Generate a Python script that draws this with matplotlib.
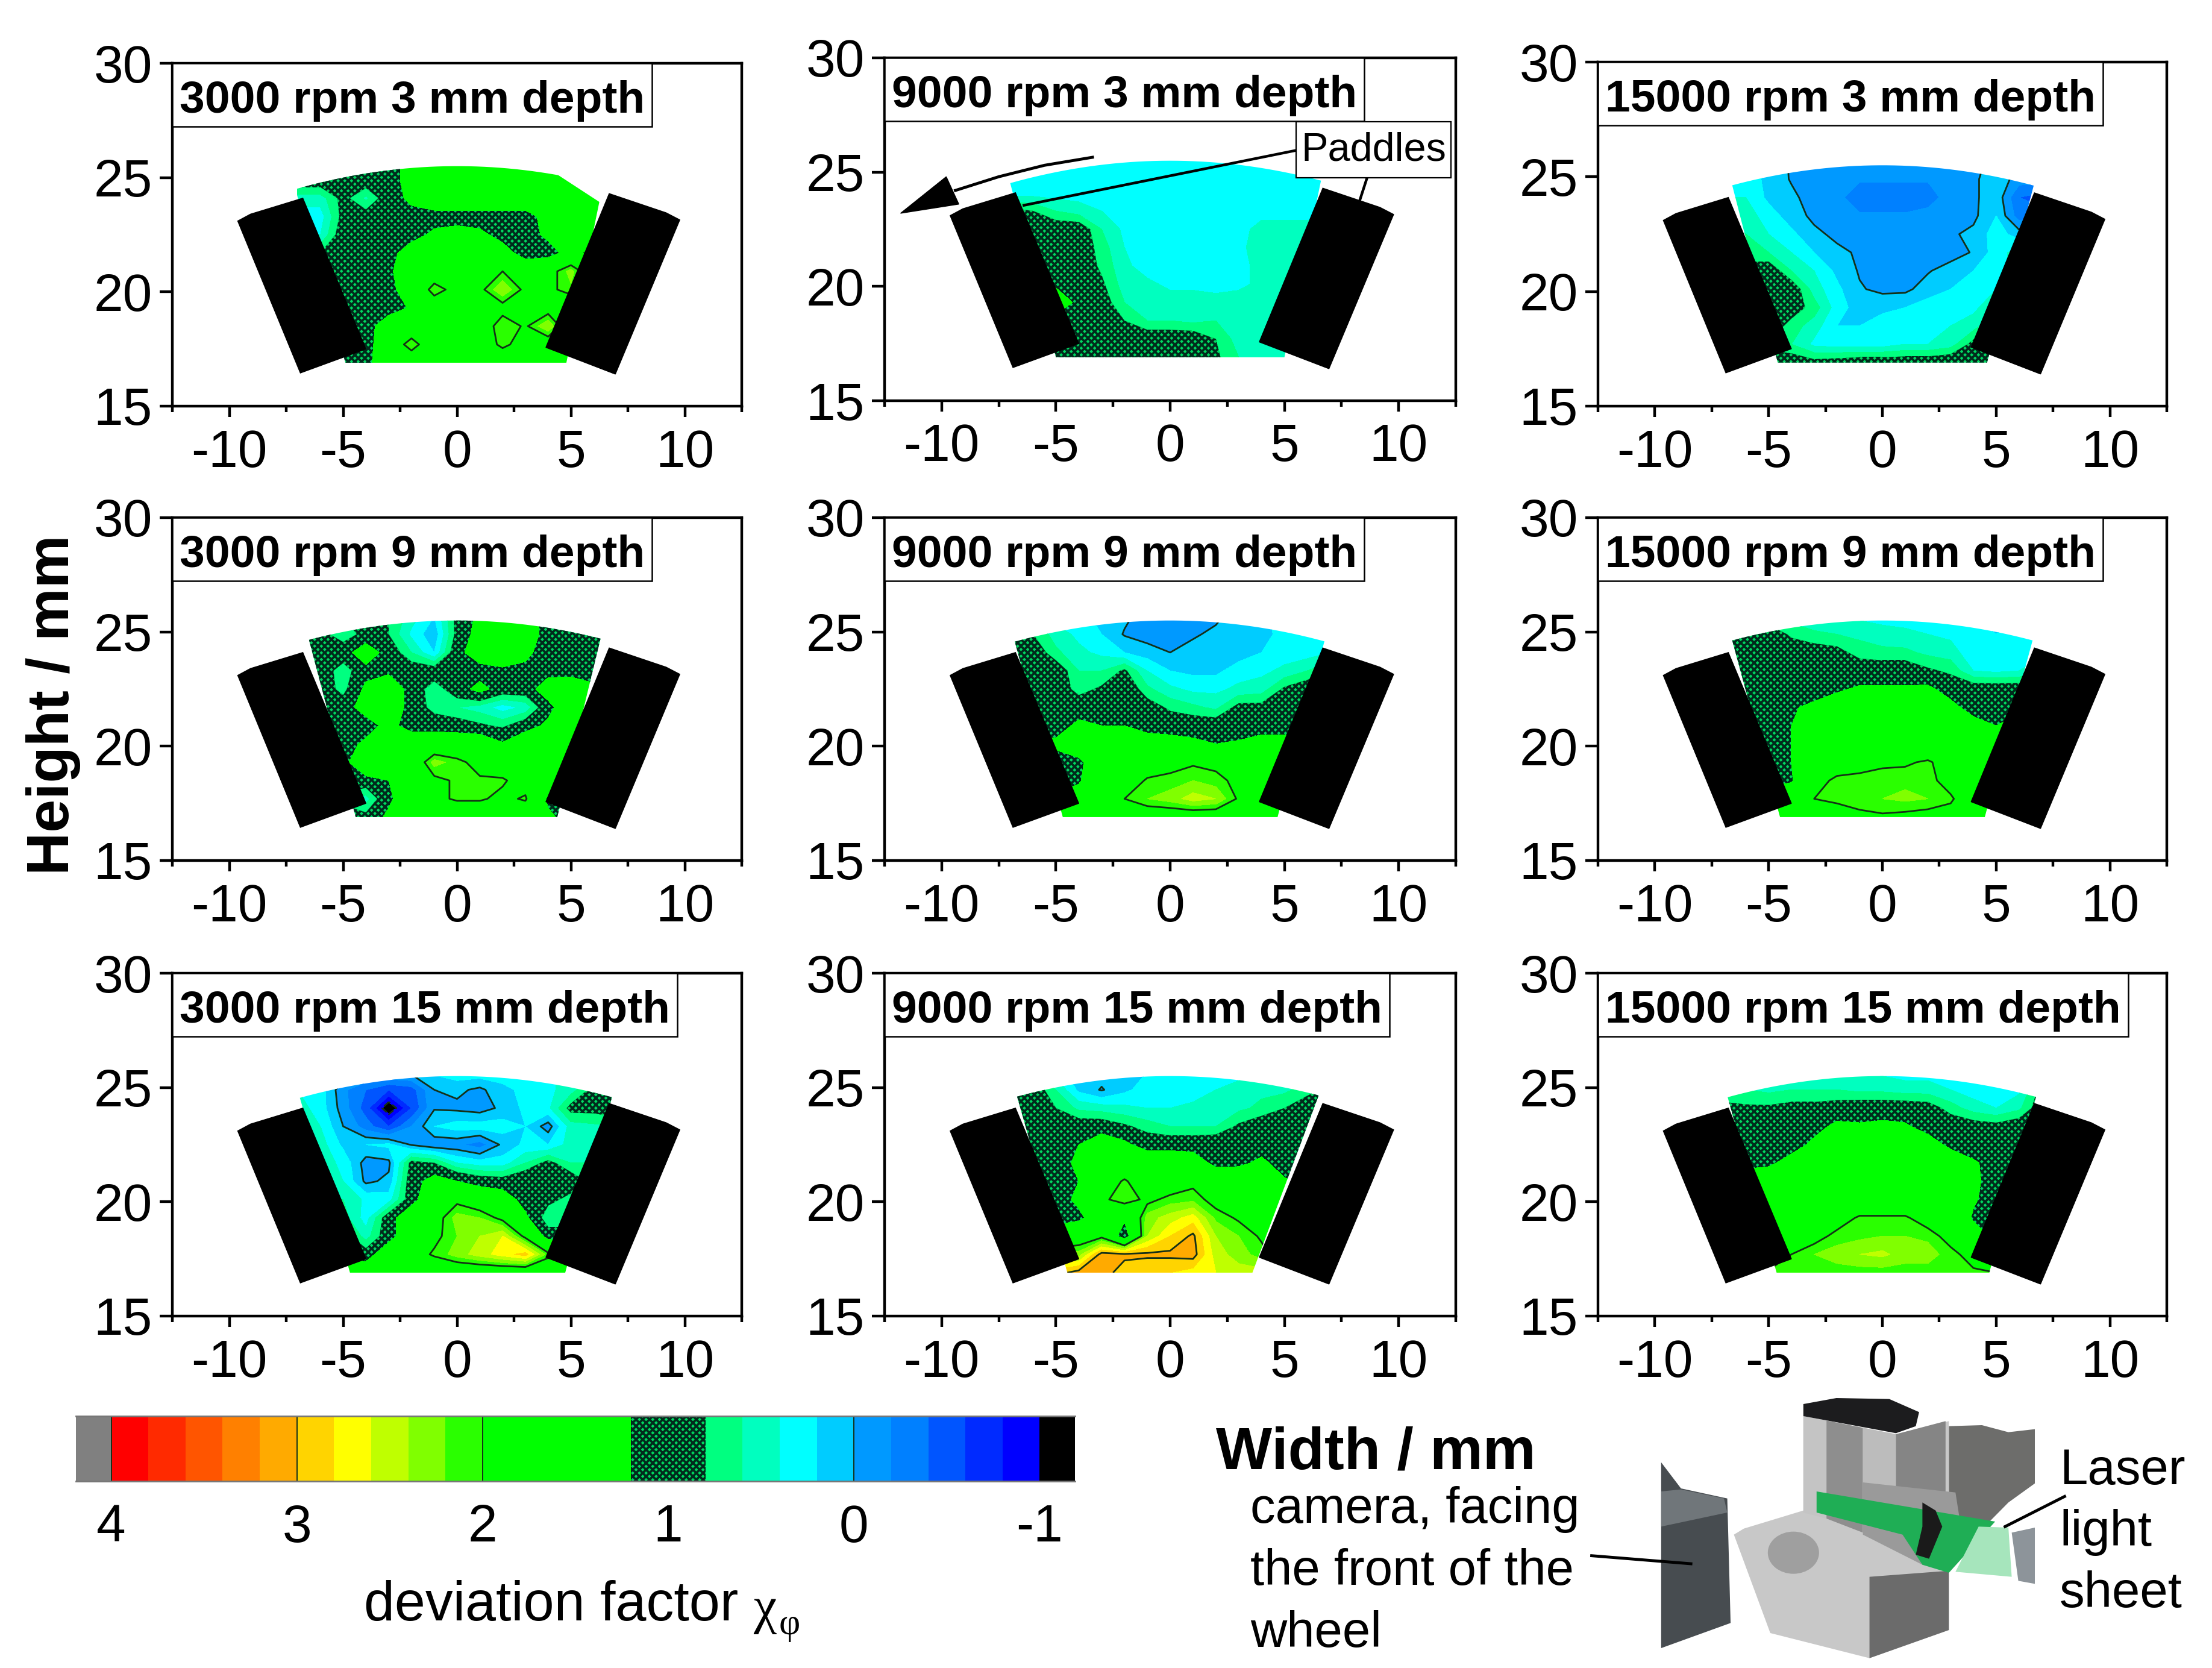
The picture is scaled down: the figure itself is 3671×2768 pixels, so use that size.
import numpy as np
import matplotlib
matplotlib.use('Agg')
import matplotlib.pyplot as plt
from matplotlib.patches import Polygon, Rectangle, Ellipse

plt.rcParams['font.family'] = ['Liberation Sans', 'DejaVu Sans']
plt.rcParams['axes.unicode_minus'] = False
plt.rcParams['hatch.color'] = '#002a1c'
plt.rcParams['hatch.linewidth'] = 2.7

W, H = 3671, 2768

# measuring grid of every map (mm), rows from top to bottom
grid_x = [-7, -6, -5, -4, -3, -2, -1, 0, 1, 2, 3, 4, 5, 6, 7]
grid_y = [25.7, 24.9, 24.1, 23.3, 22.5, 21.7, 20.9, 20.1, 19.3, 18.5, 17.7, 16.9]

# deviation factor
chi_3000_3 = [
    [1.0, 1.0, 1.0, 1.0, 1.0, 1.4, 1.6, 1.6, 1.6, 1.6, 1.6, 1.6, 1.6, 1.6, 1.6],
    [1.0, 1.0, 1.0, 1.0, 1.0, 1.4, 1.6, 1.6, 1.6, 1.6, 1.6, 1.6, 1.6, 1.6, 1.6],
    [0.5, 0.5, 0.9, 0.55, 1.0, 1.3, 1.6, 1.6, 1.6, 1.6, 1.6, 1.6, 1.6, 1.6, 1.6],
    [0.3, 0.3, 0.9, 0.95, 1.0, 1.05, 1.0, 1.0, 1.0, 1.0, 1.0, 1.4, 1.6, 1.6, 1.6],
    [0.4, 0.4, 1.0, 1.0, 1.0, 1.0, 1.3, 1.4, 1.3, 1.05, 1.0, 1.3, 1.6, 1.6, 1.6],
    [0.7, 0.8, 1.0, 1.0, 1.0, 1.5, 1.6, 1.6, 1.6, 1.4, 1.0, 1.0, 1.4, 1.0, 1.0],
    [1.0, 1.0, 1.0, 1.0, 1.1, 1.6, 1.6, 1.6, 1.6, 2.0, 1.6, 1.8, 2.3, 1.6, 1.6],
    [1.0, 1.0, 1.0, 1.0, 1.1, 1.4, 2.2, 1.8, 1.9, 2.4, 1.9, 1.9, 2.15, 1.6, 1.6],
    [1.0, 1.0, 1.0, 1.0, 1.0, 1.25, 1.6, 1.6, 1.6, 1.85, 1.6, 1.8, 1.6, 1.6, 1.6],
    [1.0, 1.0, 1.0, 1.0, 1.5, 1.6, 1.6, 1.6, 1.7, 2.2, 1.95, 2.4, 1.6, 1.6, 1.6],
    [1.0, 1.0, 1.0, 1.0, 1.6, 2.2, 1.6, 1.6, 1.7, 2.1, 1.8, 1.7, 1.6, 1.6, 1.6],
    [1.0, 1.0, 1.0, 1.05, 1.6, 1.6, 1.6, 1.6, 1.6, 1.6, 1.6, 1.6, 1.6, 1.6, 1.6],
]
chi_9000_3 = [
    [0.3, 0.3, 0.3, 0.3, 0.3, 0.3, 0.3, 0.3, 0.3, 0.3, 0.3, 0.3, 0.3, 0.3, 0.3],
    [0.3, 0.3, 0.3, 0.3, 0.3, 0.3, 0.3, 0.3, 0.3, 0.3, 0.3, 0.3, 0.3, 0.3, 0.3],
    [0.3, 0.3, 0.3, 0.3, 0.3, 0.3, 0.3, 0.3, 0.3, 0.3, 0.3, 0.3, 0.3, 0.3, 0.3],
    [0.9, 0.8, 0.6, 0.5, 0.4, 0.3, 0.3, 0.3, 0.3, 0.3, 0.3, 0.3, 0.3, 0.3, 0.3],
    [1.0, 1.0, 1.0, 1.0, 0.6, 0.35, 0.3, 0.3, 0.3, 0.3, 0.3, 0.5, 0.5, 0.5, 0.5],
    [1.0, 1.0, 1.05, 1.0, 0.7, 0.4, 0.3, 0.3, 0.3, 0.3, 0.35, 0.5, 0.5, 0.5, 0.5],
    [1.0, 1.0, 1.1, 1.0, 0.75, 0.45, 0.3, 0.3, 0.3, 0.3, 0.35, 0.45, 0.5, 0.5, 0.5],
    [1.0, 1.0, 1.1, 1.0, 0.85, 0.5, 0.45, 0.35, 0.35, 0.3, 0.35, 0.45, 0.5, 0.5, 0.5],
    [1.6, 1.6, 1.6, 1.05, 0.95, 0.6, 0.5, 0.5, 0.5, 0.5, 0.5, 0.5, 0.5, 0.5, 0.5],
    [1.0, 1.0, 1.0, 1.0, 1.0, 0.8, 0.6, 0.6, 0.55, 0.6, 0.5, 0.5, 0.55, 0.55, 0.55],
    [1.0, 1.0, 1.0, 1.0, 1.0, 0.95, 1.0, 1.0, 1.0, 0.8, 0.5, 0.55, 0.6, 0.6, 0.6],
    [1.0, 1.0, 1.0, 1.0, 1.0, 1.0, 1.0, 1.0, 1.0, 0.85, 0.6, 0.6, 0.6, 0.6, 0.6],
]
chi_15000_3 = [
    [0.3, 0.3, 0.25, -0.05, -0.1, -0.1, -0.1, -0.1, -0.1, -0.1, -0.1, -0.1, 0.1, 0.3, 0.3],
    [0.3, 0.3, 0.15, -0.02, -0.1, -0.1, -0.18, -0.18, -0.18, -0.18, -0.1, -0.05, 0.15, -0.1, -0.1],
    [0.4, 0.4, 0.15, 0.05, -0.1, -0.15, -0.3, -0.3, -0.3, -0.3, -0.1, -0.05, 0.15, -0.4, -0.5],
    [0.6, 0.5, 0.3, 0.1, -0.05, -0.1, -0.18, -0.18, -0.18, -0.12, -0.1, -0.05, 0.2, -0.3, -0.3],
    [0.7, 0.6, 0.4, 0.25, 0.05, -0.05, -0.1, -0.1, -0.1, -0.1, -0.03, 0.05, 0.3, 0.1, 0.2],
    [0.8, 0.7, 0.6, 0.4, 0.2, 0.05, -0.03, -0.1, -0.1, -0.1, -0.1, 0.02, 0.3, 0.5, 0.5],
    [0.9, 0.9, 1.0, 0.6, 0.4, 0.15, -0.02, -0.1, -0.1, -0.02, 0.1, 0.2, 0.3, 0.5, 0.6],
    [1.0, 1.0, 1.0, 1.0, 0.5, 0.25, 0.02, -0.05, -0.05, 0.1, 0.2, 0.3, 0.4, 0.6, 0.7],
    [1.0, 1.0, 1.0, 0.95, 0.7, 0.3, 0.1, 0.15, 0.2, 0.3, 0.3, 0.35, 0.55, 0.8, 0.8],
    [1.0, 1.0, 1.0, 0.7, 0.5, 0.2, 0.2, 0.3, 0.35, 0.35, 0.4, 0.5, 0.85, 1.0, 1.0],
    [0.8, 0.8, 0.7, 0.6, 0.35, 0.3, 0.3, 0.3, 0.4, 0.4, 0.5, 0.9, 1.0, 1.0, 1.0],
    [1.0, 1.0, 1.0, 1.0, 0.9, 0.95, 1.0, 1.0, 1.0, 1.0, 1.05, 1.1, 1.0, 1.0, 1.0],
]
chi_3000_9 = [
    [1.0, 1.0, 0.8, 0.9, 0.8, 0.5, 0.2, 0.9, 1.3, 1.5, 1.5, 1.0, 1.0, 1.0, 1.0],
    [1.0, 0.9, 0.65, 0.9, 0.8, 0.35, 0.05, 0.9, 1.4, 1.6, 1.5, 1.0, 1.0, 1.0, 1.0],
    [1.0, 1.0, 1.0, 1.5, 1.0, 0.6, 0.2, 1.05, 1.5, 1.6, 1.3, 1.0, 1.0, 1.0, 1.0],
    [1.0, 1.0, 0.65, 1.05, 1.1, 1.0, 1.0, 1.05, 1.0, 1.1, 1.1, 1.05, 1.0, 1.0, 1.0],
    [1.0, 1.0, 0.7, 1.3, 1.6, 1.0, 0.65, 1.0, 1.35, 1.0, 1.0, 1.45, 1.6, 1.3, 1.0],
    [1.0, 1.0, 1.0, 1.4, 1.6, 1.0, 0.7, 0.6, 0.5, 0.3, 0.45, 1.05, 1.6, 1.6, 1.6],
    [1.0, 1.0, 1.0, 1.0, 1.35, 1.0, 1.0, 0.95, 0.85, 0.75, 1.0, 1.3, 1.6, 1.6, 1.6],
    [1.0, 1.0, 1.0, 1.3, 1.5, 1.6, 1.6, 1.6, 1.6, 1.25, 1.6, 1.6, 1.6, 1.6, 1.6],
    [1.0, 1.0, 1.0, 1.8, 1.6, 1.6, 2.3, 2.1, 1.85, 1.7, 1.6, 1.6, 1.6, 1.6, 1.6],
    [1.0, 1.0, 1.0, 1.0, 1.2, 1.6, 1.9, 2.05, 2.05, 2.05, 1.8, 1.6, 1.6, 1.6, 1.6],
    [1.0, 1.0, 0.7, 0.5, 1.1, 1.6, 1.9, 2.05, 2.05, 1.9, 2.05, 1.1, 1.0, 1.0, 1.0],
    [1.0, 1.0, 1.0, 0.9, 1.3, 1.6, 1.6, 1.6, 1.6, 1.6, 1.6, 1.3, 1.0, 1.0, 1.0],
]
chi_9000_9 = [
    [0.5, 0.4, 0.3, 0.25, 0.15, 0.05, -0.1, -0.12, -0.12, -0.05, 0.1, 0.15, 0.3, 0.4, 0.4],
    [0.9, 0.8, 0.5, 0.35, 0.2, -0.02, -0.1, -0.12, -0.03, 0.05, 0.1, 0.15, 0.25, 0.35, 0.35],
    [1.0, 1.0, 0.65, 0.45, 0.35, 0.2, 0.1, 0.0, 0.08, 0.1, 0.1, 0.2, 0.3, 0.3, 0.4],
    [1.0, 1.0, 1.0, 0.6, 0.6, 0.85, 0.4, 0.2, 0.15, 0.15, 0.3, 0.35, 0.45, 0.6, 0.8],
    [1.0, 1.0, 1.0, 0.7, 0.85, 1.05, 0.65, 0.45, 0.35, 0.35, 0.45, 0.5, 0.85, 1.0, 1.0],
    [1.0, 1.0, 1.0, 1.0, 1.1, 1.05, 0.95, 0.75, 0.65, 0.55, 0.9, 0.9, 1.0, 1.0, 1.0],
    [1.0, 1.0, 1.0, 1.3, 1.2, 1.2, 1.0, 1.0, 1.0, 1.0, 1.0, 1.1, 1.0, 1.0, 1.0],
    [1.4, 1.3, 1.3, 1.5, 1.6, 1.5, 1.5, 1.4, 1.3, 1.2, 1.25, 1.3, 1.4, 1.4, 1.4],
    [1.0, 1.0, 1.0, 1.1, 1.55, 1.6, 1.7, 1.85, 1.95, 1.9, 1.6, 1.6, 1.6, 1.6, 1.6],
    [1.0, 1.0, 1.0, 1.15, 1.6, 1.7, 2.05, 2.1, 2.2, 2.1, 1.9, 1.6, 1.6, 1.6, 1.6],
    [1.3, 1.3, 1.3, 1.4, 1.8, 2.0, 2.2, 2.3, 2.5, 2.4, 1.95, 1.6, 1.6, 1.6, 1.6],
    [1.0, 1.0, 1.2, 1.5, 1.6, 1.6, 1.7, 1.7, 1.7, 1.7, 1.7, 1.6, 1.5, 1.1, 1.0],
]
chi_15000_9 = [
    [0.9, 0.7, 0.6, 0.5, 0.4, 0.4, 0.35, 0.3, 0.3, 0.25, 0.25, 0.2, 0.2, 0.2, 0.25],
    [1.0, 1.0, 1.0, 0.75, 0.65, 0.6, 0.55, 0.5, 0.45, 0.4, 0.35, 0.3, 0.2, 0.25, 0.3],
    [1.0, 1.0, 1.0, 1.0, 0.95, 0.9, 0.7, 0.65, 0.65, 0.55, 0.5, 0.25, 0.25, 0.3, 0.35],
    [1.0, 1.0, 1.0, 1.0, 1.0, 1.05, 1.0, 1.0, 1.0, 0.85, 0.75, 0.4, 0.35, 0.4, 0.55],
    [1.0, 1.0, 1.0, 1.0, 1.0, 1.15, 1.25, 1.25, 1.25, 1.3, 1.0, 1.0, 1.0, 1.0, 1.0],
    [1.0, 1.0, 1.0, 1.15, 1.3, 1.4, 1.5, 1.5, 1.6, 1.6, 1.35, 1.0, 1.0, 1.0, 1.0],
    [1.0, 1.0, 1.0, 1.2, 1.5, 1.6, 1.6, 1.6, 1.6, 1.6, 1.5, 1.4, 1.2, 1.5, 1.5],
    [1.0, 1.0, 1.0, 1.2, 1.6, 1.6, 1.6, 1.6, 1.6, 1.6, 1.6, 1.6, 1.6, 1.6, 1.6],
    [1.0, 1.0, 1.0, 1.2, 1.6, 1.7, 1.85, 1.95, 1.95, 2.05, 1.8, 1.6, 1.6, 1.6, 1.6],
    [1.0, 1.0, 1.0, 1.15, 1.8, 2.1, 2.1, 2.1, 2.15, 2.1, 1.85, 1.6, 1.6, 1.6, 1.6],
    [1.6, 1.6, 1.6, 1.6, 2.0, 2.05, 2.15, 2.2, 2.25, 2.2, 2.05, 1.7, 1.6, 1.6, 1.6],
    [1.4, 1.4, 1.5, 1.7, 1.8, 1.85, 1.9, 1.95, 1.9, 1.85, 1.85, 1.9, 1.85, 1.8, 1.8],
]
chi_3000_15 = [
    [0.4, 0.3, 0.2, 0.1, 0.1, 0.1, 0.25, 0.35, 0.35, 0.3, 0.3, 0.35, 0.5, 0.6, 0.6],
    [0.4, 0.3, -0.15, -0.4, -0.6, -0.5, 0.0, 0.05, -0.05, 0.15, 0.25, 0.35, 0.5, 0.9, 1.0],
    [0.5, 0.3, -0.1, -0.5, -1.2, -0.6, -0.02, -0.05, -0.1, 0.05, 0.25, 0.35, 0.9, 0.9, 1.0],
    [0.6, 0.4, 0.0, -0.3, -0.6, -0.2, 0.2, 0.3, 0.3, 0.3, 0.2, -0.1, 0.5, 0.55, 0.6],
    [0.6, 0.5, 0.15, 0.2, 0.25, -0.02, -0.15, -0.15, -0.3, 0.05, 0.25, 0.2, 0.5, 0.6, 0.6],
    [0.6, 0.5, 0.35, -0.1, -0.05, 0.9, 0.8, 0.4, 0.3, 0.3, 0.6, 0.9, 0.6, 0.6, 0.6],
    [0.6, 0.5, 0.4, -0.05, 0.05, 1.0, 1.4, 1.2, 1.0, 0.95, 1.1, 1.05, 1.0, 0.7, 0.7],
    [0.7, 0.6, 0.6, 0.35, 0.3, 1.0, 1.7, 1.9, 1.7, 1.5, 1.0, 0.9, 0.7, 0.7, 0.7],
    [0.9, 0.9, 0.7, 0.3, 1.0, 1.6, 1.8, 2.3, 2.2, 1.9, 1.3, 0.6, 0.6, 0.6, 0.6],
    [1.0, 1.0, 0.95, 0.5, 1.0, 1.6, 1.9, 2.2, 2.4, 2.6, 1.9, 1.0, 1.0, 1.0, 1.0],
    [1.4, 1.4, 1.0, 0.95, 1.6, 1.8, 2.05, 2.3, 2.5, 2.7, 2.9, 2.1, 1.8, 1.8, 1.8],
    [1.6, 1.6, 1.6, 1.6, 1.6, 1.6, 1.6, 1.6, 1.6, 1.6, 1.6, 1.6, 1.6, 1.6, 1.6],
]
chi_9000_15 = [
    [0.5, 0.5, 0.3, 0.1, 0.1, 0.2, 0.2, 0.25, 0.25, 0.3, 0.3, 0.4, 0.4, 0.5, 0.5],
    [1.0, 1.0, 0.6, 0.15, -0.02, 0.15, 0.3, 0.25, 0.3, 0.4, 0.5, 0.55, 0.55, 0.7, 0.9],
    [1.0, 1.0, 0.8, 0.55, 0.5, 0.45, 0.4, 0.4, 0.45, 0.5, 0.55, 0.65, 0.8, 1.0, 1.0],
    [1.0, 1.0, 1.0, 1.0, 1.0, 0.85, 0.7, 0.6, 0.6, 0.6, 0.85, 1.0, 1.0, 1.0, 1.0],
    [1.0, 1.0, 1.0, 1.2, 1.5, 1.3, 1.0, 1.0, 1.0, 1.05, 1.0, 1.0, 1.0, 1.0, 1.0],
    [1.0, 1.0, 1.0, 1.3, 1.6, 1.6, 1.6, 1.6, 1.5, 1.05, 1.1, 1.3, 1.0, 1.0, 1.0],
    [1.0, 1.0, 1.0, 1.2, 1.7, 2.05, 1.7, 1.7, 1.9, 1.7, 1.6, 1.6, 1.25, 1.1, 1.1],
    [1.0, 1.0, 1.0, 1.3, 1.9, 2.2, 1.9, 2.1, 2.15, 1.85, 1.6, 1.6, 1.6, 1.6, 1.6],
    [1.0, 1.0, 1.0, 1.1, 1.5, 1.3, 2.3, 2.5, 2.7, 2.15, 1.95, 1.6, 1.5, 1.5, 1.5],
    [1.5, 1.5, 1.5, 1.7, 1.9, 0.9, 2.4, 2.8, 3.05, 2.4, 2.2, 1.95, 1.6, 1.6, 1.6],
    [2.3, 2.3, 2.3, 2.3, 3.1, 3.05, 3.05, 3.05, 3.1, 2.5, 2.3, 2.1, 1.8, 1.8, 1.8],
    [2.9, 2.9, 2.9, 3.1, 3.1, 2.9, 2.8, 2.8, 2.7, 2.6, 2.5, 2.5, 2.5, 2.5, 2.5],
]
chi_15000_15 = [
    [0.3, 0.3, 0.3, 0.3, 0.3, 0.35, 0.4, 0.35, 0.3, 0.3, 0.25, 0.25, 0.25, 0.25, 0.3],
    [0.6, 0.6, 0.55, 0.6, 0.6, 0.6, 0.55, 0.55, 0.5, 0.5, 0.4, 0.3, 0.25, 0.35, 0.9],
    [0.9, 0.85, 0.85, 0.9, 0.9, 0.95, 1.0, 1.0, 1.0, 0.95, 0.7, 0.5, 0.4, 0.55, 1.0],
    [1.0, 1.0, 1.0, 1.0, 1.05, 1.3, 1.25, 1.3, 1.25, 1.05, 1.0, 0.95, 0.9, 1.0, 1.0],
    [1.0, 1.0, 1.0, 1.0, 1.3, 1.6, 1.6, 1.6, 1.6, 1.4, 1.1, 1.0, 1.0, 1.0, 1.0],
    [1.0, 1.05, 1.1, 1.4, 1.6, 1.6, 1.6, 1.6, 1.6, 1.6, 1.5, 1.25, 1.05, 1.0, 1.0],
    [1.5, 1.5, 1.6, 1.6, 1.6, 1.6, 1.6, 1.6, 1.6, 1.6, 1.6, 1.3, 1.0, 1.0, 1.0],
    [1.6, 1.6, 1.6, 1.6, 1.6, 1.6, 1.6, 1.6, 1.6, 1.6, 1.6, 1.25, 1.0, 1.0, 1.0],
    [1.6, 1.6, 1.6, 1.6, 1.6, 1.8, 2.05, 2.05, 2.05, 1.8, 1.6, 1.15, 1.0, 1.0, 1.0],
    [1.6, 1.6, 1.6, 1.6, 1.85, 2.1, 2.15, 2.2, 2.2, 2.15, 1.85, 1.4, 1.1, 1.0, 1.0],
    [1.6, 1.6, 1.7, 2.0, 2.2, 2.3, 2.4, 2.45, 2.3, 2.3, 2.1, 1.85, 1.6, 1.6, 1.6],
    [2.05, 2.05, 2.05, 2.05, 2.05, 2.1, 2.1, 2.1, 2.1, 2.1, 2.05, 2.05, 2.0, 2.0, 2.0],
]

panel_chi = [chi_3000_3, chi_9000_3, chi_15000_3,
             chi_3000_9, chi_9000_9, chi_15000_9,
             chi_3000_15, chi_9000_15, chi_15000_15]
panel_titles = ['3000 rpm 3 mm depth', '9000 rpm 3 mm depth', '15000 rpm 3 mm depth',
                '3000 rpm 9 mm depth', '9000 rpm 9 mm depth', '15000 rpm 9 mm depth',
                '3000 rpm 15 mm depth', '9000 rpm 15 mm depth', '15000 rpm 15 mm depth']

# ends of the measured sector: top left, top right, bottom left, bottom right
sector_top_l = [-7.1, -7.0, -6.6, -6.5, -6.8, -6.6, -6.9, -6.7, -6.8]
sector_top_r = [6.4, 6.6, 6.65, 6.3, 6.75, 6.6, 6.8, 6.5, 6.75]
sector_bot_l = [-4.9, -5.0, -4.6, -4.45, -4.7, -4.5, -4.7, -4.5, -4.65]
sector_bot_r = [4.8, 5.0, 4.6, 4.4, 4.7, 4.5, 4.75, 3.6, 4.7]

paddle_left_x = [-9.63, -9.07, -6.77, -4.0, -6.88]
paddle_left_y = [23.1, 23.4, 24.1, 17.5, 16.45]
paddle_right_x = [9.78, 9.18, 6.68, 3.9, 6.95]
paddle_right_y = [23.15, 23.46, 24.3, 17.57, 16.4]

chi_levels = [-9, -1, -0.8, -0.6, -0.4, -0.2, 0, 0.2, 0.4, 0.6, 0.8, 1.2, 2, 2.2, 2.4, 2.6,
              2.8, 3, 3.2, 3.4, 3.6, 3.8, 4, 9]
chi_colors = ['#000000', '#0000ff', '#002aff', '#0055ff', '#0080ff', '#0099ff', '#00ccff',
              '#00ffff', '#00ffbf', '#00ff80', '#00d860', '#00ff00', '#2aff00', '#80ff00',
              '#bfff00', '#ffff00', '#ffd400', '#ffaa00', '#ff8000', '#ff5500', '#ff2a00',
              '#ff0000', '#808080']
chi_hatches = [None] * 10 + ['xxx'] + [None] * 12
line_levels = [-1, 0, 2, 3, 4]

bar_ticks = [4, 3, 2, 1, 0, -1]

# axes rectangles in pixels (left, right, top, bottom)
col_px = [(286, 1231), (1468, 2416), (2652, 3596)]
row_px = [[(105, 674), (96, 665), (103, 674)],
          [(859, 1428), (859, 1428), (859, 1428)],
          [(1615, 2184), (1615, 2184), (1615, 2184)]]


def add_axes_px(left, right, top, bottom):
    return fig.add_axes([left / W, 1 - bottom / H, (right - left) / W, (bottom - top) / H])


def sector_outline(i):
    arc_x = np.linspace(sector_top_l[i], sector_top_r[i], 40)
    arc_y = 25.5 - 0.02 * arc_x ** 2
    xs = [sector_bot_l[i]] + list(arc_x) + [sector_bot_r[i]]
    ys = [16.9] + list(arc_y) + [16.9]
    return np.column_stack([xs, ys])


fig = plt.figure(figsize=(W / 100, H / 100), dpi=100, facecolor='white')
renderer = fig.canvas.get_renderer()

for i in range(9):
    r, c = i // 3, i % 3
    left, right = col_px[c]
    top, bottom = row_px[r][c]
    ax = add_axes_px(left, right, top, bottom)
    ax.set_xlim(-12.5, 12.5)
    ax.set_ylim(15, 30)

    outline = Polygon(sector_outline(i), closed=True, fc='none', ec='none')
    ax.add_patch(outline)
    z = np.array(panel_chi[i])
    cf = ax.contourf(grid_x, grid_y, z, levels=chi_levels, colors=chi_colors, hatches=chi_hatches)
    cf.set_clip_path(outline)
    cl = ax.contour(grid_x, grid_y, z, levels=line_levels, colors='#143018', linewidths=2.0)
    cl.set_clip_path(outline)

    if i == 0:
        # the first map has its upper right corner cut off
        ax.add_patch(Polygon([(2.8, 25.7), (7.5, 25.7), (7.5, 23.6), (6.3, 23.9), (4.3, 25.2)],
                             fc='white', ec='none', zorder=3))

    ax.add_patch(Polygon(np.column_stack([paddle_left_x, paddle_left_y]), fc='black', ec='black', zorder=4))
    ax.add_patch(Polygon(np.column_stack([paddle_right_x, paddle_right_y]), fc='black', ec='black', zorder=4))

    ax.set_xticks([-10, -5, 0, 5, 10])
    ax.set_xticks([-12.5, -7.5, -2.5, 2.5, 7.5, 12.5], minor=True)
    ax.set_yticks([15, 20, 25, 30])
    ax.tick_params(axis='x', which='major', length=13, width=3.2, labelsize=63, pad=14)
    ax.tick_params(axis='x', which='minor', length=7, width=3.2)
    ax.tick_params(axis='y', which='major', length=15, width=3.2, labelsize=63, pad=9)
    for s in ax.spines.values():
        s.set_linewidth(3.2)

    # title box hangs from the top left corner of the axes
    t = ax.text(-12.5 + 0.32, 27.84, panel_titles[i], fontsize=54, fontweight='bold', va='baseline', ha='left', zorder=6)
    box_w = (t.get_window_extent(renderer).width + 24) / (right - left)
    box_h = 105 / (bottom - top)
    ax.add_patch(Rectangle((0, 1 - box_h), box_w, box_h, transform=ax.transAxes,
                           fc='white', ec='black', lw=1.8, zorder=5))

    if i == 1:
        # rotation arrow and the paddle labels of the second map
        ax.plot([-3.4, -5.5, -7.5, -9.4], [25.65, 25.3, 24.8, 24.2], color='black', lw=3.5, zorder=5)
        ax.add_patch(Polygon([(-11.8, 23.2), (-9.8, 24.8), (-9.25, 23.6)], fc='black', ec='black', zorder=5))
        ax.plot([5.5, -6.4], [25.95, 23.55], color='black', lw=3.2, zorder=5)
        ax.plot([8.6, 8.26], [24.7, 23.65], color='black', lw=3.2, zorder=3)
        ax.add_patch(Rectangle((5.5, 24.75), 6.8, 2.45, fc='white', ec='black', lw=1.6, zorder=5))
        ax.text(8.9, 25.95, 'Paddles', fontsize=48, ha='center', va='center', zorder=6)

# colour scale
cax = add_axes_px(126, 1784, 2350, 2458)
bar_x = np.array([-1.19, 4.19])
bar_z = np.vstack([bar_x, bar_x])
cax.contourf(bar_x, [0, 1], bar_z, levels=chi_levels, colors=chi_colors, hatches=chi_hatches)
cax.contour(bar_x, [0, 1], bar_z, levels=[0, 2, 3, 4], colors='#143018', linewidths=1.4)
cax.set_xlim(4.19, -1.19)
cax.set_ylim(0, 1)
cax.set_yticks([])
cax.set_xticks(bar_ticks)
cax.set_xticklabels([str(t) for t in bar_ticks])
cax.tick_params(axis='x', length=0, labelsize=63, pad=27)
for name, s in cax.spines.items():
    s.set_linewidth(2)
    s.set_color('#777777')
    if name in ('left', 'right'):
        s.set_visible(False)

# everything else is placed on a full-figure layer in pixels
ov = fig.add_axes([0, 0, 1, 1])
ov.set_xlim(0, W)
ov.set_ylim(H, 0)
ov.axis('off')
ov.patch.set_alpha(0)

ov.text(88, 1170, 'Height / mm', rotation=90, fontsize=71, fontweight='bold', ha='center', va='center')
ov.text(2018, 2412, 'Width / mm', fontsize=71, fontweight='bold', ha='left', va='center')
ov.text(604, 2665, 'deviation factor', fontsize=66, ha='left', va='center')
ov.text(1250, 2672, '\u03c7', fontsize=62, family='Liberation Serif', ha='left', va='center')
ov.text(1293, 2697, '\u03c6', fontsize=44, family='Liberation Serif', ha='left', va='center')

for txt, y in zip(['camera, facing', 'the front of the', 'wheel'], [2505, 2608, 2711]):
    ov.text(2075, y, txt, fontsize=60, ha='left', va='center')
for txt, y in zip(['Laser', 'light', 'sheet'], [2441, 2543, 2645]):
    ov.text(3418, y, txt, fontsize=60, ha='left', va='center')


def sk(pts):
    # sketch coordinates of the test rig into figure pixels
    return [(1950 + x / 0.911, 2280 + y / 3) for x, y in pts]


rig = [
    # camera
    ([(735, 440), (765, 570), (835, 620), (840, 1240), (735, 1365)], '#474c50'),
    ([(735, 585), (765, 575), (830, 620), (835, 690), (735, 760)], '#70767a'),
    # rear cylinder and silhouette of the housing
    ([(1170, 260), (1220, 255), (1260, 290), (1300, 275), (1300, 545), (1260, 640), (1230, 740), (1170, 700)], '#6d6d6b'),
    ([(950, 210), (950, 680), (860, 770), (845, 800), (900, 1290), (1050, 1415), (1170, 1275), (1170, 235), (1090, 300)], '#c8c8c8'),
    # lower block, dark side
    ([(1050, 1415), (1170, 1275), (1170, 980), (1050, 1010)], '#6b6b6b'),
    # tower front with its shading
    ([(950, 210), (985, 232), (985, 720), (950, 690)], '#c4c4c4'),
    ([(985, 232), (1040, 268), (1040, 790), (985, 720)], '#8e8e8e'),
    ([(1040, 268), (1090, 300), (1090, 850), (1040, 790)], '#bcbcbc'),
    ([(1090, 300), (1165, 235), (1165, 640), (1090, 600)], '#858585'),
    ([(950, 150), (1000, 120), (1080, 125), (1125, 190), (1120, 260), (1090, 295), (950, 210)], '#1c1c1e'),
    # flange and light sheet
    ([(1040, 540), (1180, 590), (1190, 800), (1130, 950), (1040, 800)], '#9a9a9a'),
    ([(970, 585), (1240, 735), (1170, 990), (1130, 950), (1100, 800), (970, 690)], '#1fae55'),
    ([(1215, 760), (1260, 765), (1265, 1010), (1180, 985)], '#a6e5bc'),
    ([(1265, 790), (1300, 765), (1300, 1045), (1275, 1030)], '#8d949a'),
    ([(1130, 640), (1150, 680), (1160, 760), (1140, 920), (1120, 900), (1130, 760)], '#1a1a1a'),
]
for pts, col in rig:
    ov.add_patch(Polygon(sk(pts), fc=col, ec='none'))
cx, cy = sk([(935, 890)])[0]
ov.add_patch(Ellipse((cx, cy), 85, 70, fc='#9f9f9f', ec='none'))

(x0, y0), (x1, y1) = sk([(630, 905), (780, 945)])
ov.plot([x0, x1], [y0, y1], color='black', lw=3.5)
(x0, y0), (x1, y1) = sk([(1345, 610), (1255, 760)])
ov.plot([x0, x1], [y0, y1], color='black', lw=3.5)

fig.savefig('out.png', dpi=100)
